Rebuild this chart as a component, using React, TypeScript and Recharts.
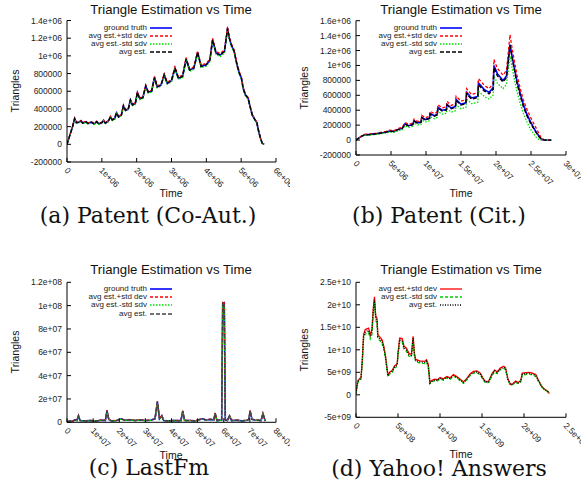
import { LineChart, Line, XAxis, YAxis, Legend } from 'recharts';

// (a) Patent (Co-Aut.)
const timeA = [0, 0.08e6, 0.16e6, 0.22e6, 0.27e6, 0.35e6, 0.4e6, 0.45e6, 0.55e6, 0.6e6,
  0.7e6, 0.78e6, 0.85e6, 0.92e6, 1.0e6, 1.05e6, 1.1e6, 1.18e6, 1.25e6, 1.3e6,
  1.37e6, 1.42e6, 1.48e6, 1.56e6, 1.62e6, 1.68e6, 1.76e6, 1.82e6, 1.88e6, 1.96e6,
  2.02e6, 2.09e6, 2.18e6, 2.26e6, 2.33e6, 2.43e6, 2.51e6, 2.59e6, 2.7e6, 2.79e6,
  2.88e6, 3.0e6, 3.1e6, 3.2e6, 3.32e6, 3.42e6, 3.52e6, 3.64e6, 3.75e6, 3.85e6,
  4.0e6, 4.1e6, 4.18e6, 4.28e6, 4.4e6, 4.52e6, 4.61e6, 4.66e6, 4.72e6, 4.8e6,
  4.88e6, 4.95e6, 5.0e6, 5.06e6, 5.12e6, 5.2e6, 5.26e6, 5.32e6, 5.4e6, 5.45e6,
  5.5e6, 5.56e6, 5.61e6, 5.66e6];
const avgA = [0, 0.1e6, 0.2e6, 0.29e6, 0.245e6, 0.25e6, 0.265e6, 0.24e6, 0.255e6, 0.235e6,
  0.25e6, 0.23e6, 0.255e6, 0.23e6, 0.245e6, 0.27e6, 0.24e6, 0.26e6, 0.31e6, 0.275e6,
  0.29e6, 0.355e6, 0.31e6, 0.33e6, 0.435e6, 0.385e6, 0.4e6, 0.5e6, 0.445e6, 0.46e6,
  0.585e6, 0.515e6, 0.53e6, 0.66e6, 0.59e6, 0.6e6, 0.755e6, 0.65e6, 0.67e6, 0.785e6,
  0.69e6, 0.72e6, 0.86e6, 0.745e6, 0.77e6, 0.965e6, 0.84e6, 0.86e6, 1.04e6, 0.88e6,
  0.9e6, 0.95e6, 1.18e6, 1.03e6, 1.01e6, 1.05e6, 1.31e6, 1.2e6, 1.12e6, 1.05e6,
  0.9e6, 0.8e6, 0.76e6, 0.63e6, 0.56e6, 0.52e6, 0.42e6, 0.33e6, 0.275e6, 0.245e6,
  0.15e6, 0.06e6, 0.01e6, 0];
const stdA = [0, 3e3, 5e3, 7e3, 6e3, 6e3, 6e3, 6e3, 6e3, 6e3,
  6e3, 6e3, 6e3, 6e3, 6e3, 7e3, 6e3, 6e3, 7e3, 7e3,
  7e3, 8e3, 7e3, 8e3, 9e3, 8e3, 9e3, 10e3, 9e3, 10e3,
  11e3, 10e3, 11e3, 12e3, 11e3, 11e3, 13e3, 12e3, 12e3, 13e3,
  12e3, 13e3, 15e3, 13e3, 14e3, 16e3, 15e3, 15e3, 17e3, 15e3,
  16e3, 16e3, 19e3, 17e3, 17e3, 18e3, 20e3, 19e3, 18e3, 17e3,
  16e3, 15e3, 14e3, 12e3, 11e3, 10e3, 9e3, 7e3, 6e3, 5e3,
  4e3, 2e3, 1e3, 0];
// ground truth lies right under the average at this scale
const truthA = avgA;
const xTicksA = [0, 1e6, 2e6, 3e6, 4e6, 5e6, 6e6];
const yTicksA = [-200000, 0, 200000, 400000, 600000, 800000, 1000000, 1200000, 1400000];

// (b) Patent (Cit.)
const timeB = [0, 0.6e6, 1.2e6, 2.0e6, 3.0e6, 3.6e6, 4.2e6, 4.8e6, 5.4e6, 6.0e6,
  6.6e6, 7.0e6, 7.5e6, 8.1e6, 8.3e6, 8.8e6, 9.3e6, 9.4e6, 9.9e6, 10.5e6,
  10.6e6, 11.2e6, 11.6e6, 11.7e6, 12.3e6, 12.9e6, 13.0e6, 13.6e6, 14.2e6, 14.3e6,
  15.0e6, 15.7e6, 15.8e6, 16.5e6, 17.4e6, 17.5e6, 18.3e6, 19.0e6, 19.6e6, 19.7e6,
  20.2e6, 21.0e6, 21.5e6, 22.0e6, 22.3e6, 22.7e6, 23.0e6, 23.5e6, 23.9e6, 24.4e6,
  24.9e6, 25.4e6, 25.8e6, 26.2e6, 26.5e6, 27.0e6, 27.9e6];
const avgB = [0, 0.04e6, 0.07e6, 0.075e6, 0.085e6, 0.095e6, 0.105e6, 0.12e6, 0.115e6, 0.14e6,
  0.155e6, 0.215e6, 0.19e6, 0.205e6, 0.255e6, 0.225e6, 0.24e6, 0.3e6, 0.27e6, 0.29e6,
  0.35e6, 0.32e6, 0.34e6, 0.43e6, 0.39e6, 0.4e6, 0.47e6, 0.42e6, 0.44e6, 0.53e6,
  0.47e6, 0.49e6, 0.62e6, 0.55e6, 0.57e6, 0.74e6, 0.66e6, 0.62e6, 0.68e6, 0.97e6,
  0.86e6, 0.78e6, 0.84e6, 1.27e6, 1.1e6, 0.9e6, 0.76e6, 0.58e6, 0.45e6, 0.33e6,
  0.23e6, 0.15e6, 0.09e6, 0.04e6, 0.01e6, 0, 0];
const truthB = [0, 0.04e6, 0.07e6, 0.076e6, 0.086e6, 0.096e6, 0.106e6, 0.122e6, 0.117e6, 0.142e6,
  0.157e6, 0.218e6, 0.193e6, 0.208e6, 0.26e6, 0.23e6, 0.245e6, 0.305e6, 0.275e6, 0.295e6,
  0.355e6, 0.325e6, 0.345e6, 0.44e6, 0.4e6, 0.41e6, 0.48e6, 0.43e6, 0.45e6, 0.545e6,
  0.48e6, 0.5e6, 0.64e6, 0.565e6, 0.585e6, 0.765e6, 0.68e6, 0.64e6, 0.7e6, 1.0e6,
  0.89e6, 0.8e6, 0.86e6, 1.28e6, 1.12e6, 0.93e6, 0.79e6, 0.61e6, 0.48e6, 0.35e6,
  0.25e6, 0.16e6, 0.1e6, 0.045e6, 0.012e6, 0, 0];
const stdB = [0, 0.004e6, 0.006e6, 0.007e6, 0.008e6, 0.009e6, 0.01e6, 0.012e6, 0.012e6, 0.014e6,
  0.016e6, 0.022e6, 0.02e6, 0.022e6, 0.026e6, 0.024e6, 0.026e6, 0.031e6, 0.028e6, 0.03e6,
  0.036e6, 0.034e6, 0.036e6, 0.045e6, 0.042e6, 0.043e6, 0.05e6, 0.045e6, 0.047e6, 0.058e6,
  0.05e6, 0.053e6, 0.07e6, 0.06e6, 0.063e6, 0.085e6, 0.075e6, 0.07e6, 0.076e6, 0.11e6,
  0.1e6, 0.09e6, 0.095e6, 0.14e6, 0.13e6, 0.12e6, 0.11e6, 0.1e6, 0.09e6, 0.085e6,
  0.08e6, 0.07e6, 0.06e6, 0.035e6, 0.01e6, 0, 0];
const xTicksB = [0, 5e6, 1e7, 1.5e7, 2e7, 2.5e7, 3e7];
const yTicksB = [-200000, 0, 200000, 400000, 600000, 800000, 1000000, 1200000, 1400000, 1600000];

// (c) LastFm
const timeC = [0, 1e6, 2e6, 3e6, 3.8e6, 4.4e6, 5e6, 7e6, 9e6, 11e6,
  13e6, 14.7e6, 15.3e6, 16e6, 17e6, 19e6, 20.8e6, 22e6, 24e6, 26e6,
  28e6, 30e6, 32e6, 33.7e6, 34.6e6, 35.4e6, 36.3e6, 37e6, 39e6, 41e6,
  43.6e6, 44.3e6, 45e6, 47e6, 49e6, 51e6, 52e6, 53e6, 55e6, 56.2e6,
  56.7e6, 57.4e6, 59.2e6, 59.6e6, 60.2e6, 60.6e6, 61.4e6, 62.2e6, 63e6, 65e6,
  67e6, 69e6, 69.6e6, 70.1e6, 70.8e6, 72e6, 73e6, 74.3e6, 75e6, 75.9e6];
const avgC = [0.5e6, 1.0e6, 0.8e6, 2.0e6, 1.5e6, 5.5e6, 1.5e6, 1.2e6, 1.5e6, 1.0e6,
  1.8e6, 1.6e6, 10e6, 2.5e6, 1.2e6, 1.5e6, 3.0e6, 1.8e6, 2.2e6, 1.5e6,
  2.0e6, 1.5e6, 1.8e6, 3.0e6, 17.5e6, 3.0e6, 5.5e6, 1.5e6, 1.2e6, 1.5e6,
  1.4e6, 9.5e6, 1.5e6, 1.5e6, 1.2e6, 2.5e6, 3.0e6, 2.0e6, 2.5e6, 2.0e6,
  7.7e6, 1.5e6, 2.0e6, 102e6, 102.5e6, 2.0e6, 1.5e6, 5.5e6, 1.5e6, 1.8e6,
  1.2e6, 1.8e6, 2.5e6, 9.7e6, 2.5e6, 2.0e6, 1.8e6, 1.5e6, 7.4e6, 1.0e6];
const stdC = [0.05e6, 0.1e6, 0.1e6, 0.2e6, 0.15e6, 0.4e6, 0.15e6, 0.1e6, 0.15e6, 0.1e6,
  0.15e6, 0.15e6, 0.5e6, 0.2e6, 0.1e6, 0.15e6, 0.25e6, 0.15e6, 0.2e6, 0.15e6,
  0.2e6, 0.15e6, 0.15e6, 0.25e6, 0.7e6, 0.25e6, 0.4e6, 0.15e6, 0.1e6, 0.15e6,
  0.1e6, 0.5e6, 0.15e6, 0.15e6, 0.1e6, 0.2e6, 0.25e6, 0.2e6, 0.2e6, 0.2e6,
  0.4e6, 0.15e6, 0.2e6, 0.9e6, 1.0e6, 0.2e6, 0.15e6, 0.4e6, 0.15e6, 0.15e6,
  0.1e6, 0.15e6, 0.2e6, 0.5e6, 0.2e6, 0.2e6, 0.15e6, 0.15e6, 0.4e6, 0.1e6];
// ground truth coincides with the average here too
const truthC = avgC;
const xTicksC = [0, 1e7, 2e7, 3e7, 4e7, 5e7, 6e7, 7e7, 8e7];
const yTicksC = [0, 2e7, 4e7, 6e7, 8e7, 1e8, 1.2e8];

// (d) Yahoo! Answers
const timeD = [0, 0.02e9, 0.06e9, 0.075e9, 0.09e9, 0.11e9, 0.15e9, 0.17e9, 0.19e9, 0.205e9,
  0.22e9, 0.235e9, 0.25e9, 0.26e9, 0.29e9, 0.31e9, 0.33e9, 0.35e9, 0.38e9, 0.4e9,
  0.43e9, 0.46e9, 0.49e9, 0.5e9, 0.52e9, 0.55e9, 0.57e9, 0.6e9, 0.63e9, 0.66e9,
  0.68e9, 0.695e9, 0.71e9, 0.76e9, 0.82e9, 0.84e9, 0.86e9, 0.88e9, 0.91e9, 0.94e9,
  0.97e9, 1.0e9, 1.04e9, 1.08e9, 1.12e9, 1.16e9, 1.2e9, 1.24e9, 1.28e9, 1.32e9,
  1.36e9, 1.4e9, 1.44e9, 1.48e9, 1.51e9, 1.54e9, 1.58e9, 1.62e9, 1.65e9, 1.68e9,
  1.72e9, 1.76e9, 1.78e9, 1.81e9, 1.84e9, 1.87e9, 1.9e9, 1.93e9, 1.96e9, 1.98e9,
  2.02e9, 2.06e9, 2.1e9, 2.14e9, 2.17e9, 2.21e9, 2.25e9, 2.28e9, 2.3e9];
const avgD = [0.3e9, 2.9e9, 3.7e9, 7.5e9, 12.9e9, 14.0e9, 14.3e9, 12.9e9, 14.0e9, 18.5e9,
  21.1e9, 17.0e9, 16.5e9, 12.9e9, 12.3e9, 11.8e9, 10.5e9, 8.5e9, 4.2e9, 4.8e9,
  5.2e9, 6.2e9, 6.6e9, 9.0e9, 12.2e9, 12.1e9, 10.5e9, 10.0e9, 8.9e9, 8.7e9,
  12.6e9, 9.0e9, 7.6e9, 7.3e9, 7.2e9, 7.5e9, 6.5e9, 2.6e9, 3.1e9, 3.3e9,
  3.2e9, 3.7e9, 3.4e9, 3.9e9, 3.6e9, 4.3e9, 3.9e9, 3.3e9, 2.7e9, 3.5e9,
  4.5e9, 5.0e9, 5.1e9, 4.6e9, 3.6e9, 2.8e9, 2.9e9, 4.5e9, 5.3e9, 4.9e9,
  5.8e9, 6.1e9, 5.8e9, 3.3e9, 2.2e9, 2.4e9, 2.9e9, 2.6e9, 3.0e9, 4.6e9,
  4.7e9, 4.8e9, 4.6e9, 4.3e9, 3.2e9, 1.8e9, 1.1e9, 0.8e9, 0.3e9];
const stdD = [0.05e9, 0.15e9, 0.2e9, 0.3e9, 0.45e9, 0.5e9, 0.5e9, 0.45e9, 0.5e9, 0.6e9,
  0.7e9, 0.55e9, 0.55e9, 0.45e9, 0.4e9, 0.4e9, 0.35e9, 0.3e9, 0.2e9, 0.2e9,
  0.2e9, 0.25e9, 0.25e9, 0.3e9, 0.4e9, 0.4e9, 0.35e9, 0.35e9, 0.3e9, 0.3e9,
  0.4e9, 0.3e9, 0.25e9, 0.25e9, 0.25e9, 0.25e9, 0.25e9, 0.15e9, 0.15e9, 0.15e9,
  0.15e9, 0.15e9, 0.15e9, 0.15e9, 0.15e9, 0.2e9, 0.15e9, 0.15e9, 0.15e9, 0.15e9,
  0.2e9, 0.2e9, 0.2e9, 0.2e9, 0.15e9, 0.15e9, 0.15e9, 0.2e9, 0.2e9, 0.2e9,
  0.2e9, 0.25e9, 0.2e9, 0.15e9, 0.1e9, 0.1e9, 0.15e9, 0.1e9, 0.15e9, 0.2e9,
  0.2e9, 0.2e9, 0.2e9, 0.2e9, 0.15e9, 0.1e9, 0.05e9, 0.05e9, 0.02e9];
const xTicksD = [0, 5e8, 1e9, 1.5e9, 2e9, 2.5e9];
const yTicksD = [-5e9, 0, 5e9, 1e10, 1.5e10, 2e10, 2.5e10];

const seriesNames = ['ground truth', 'avg est.+std dev', 'avg est.-std sdv', 'avg est.'];
const chartTitle = 'Triangle Estimation vs Time';
const xLabel = 'Time';
const yLabel = 'Triangles';
const captions = ['(a) Patent (Co-Aut.)', '(b) Patent (Cit.)', '(c) LastFm', '(d) Yahoo! Answers'];

const FONT = '"Liberation Sans", Arial, Helvetica, sans-serif';
const SERIF = '"DejaVu Serif", serif';

// gnuplot style %g labels: 800000, 1e+06, 1.5e+07 ...
const gfmt = (v: number) => {
  if (v === 0) return '0';
  const e = Math.floor(Math.log10(Math.abs(v)) + 1e-9);
  if (e < 6) return String(v);
  const m = +(v / Math.pow(10, e)).toPrecision(6);
  return `${m}e+${e < 10 ? '0' + e : e}`;
};

const buildRows = (time: number[], avg: number[], std: number[], truth?: number[]) =>
  time.map((t, i) => ({
    t,
    truth: truth ? truth[i] : undefined,
    plus: avg[i] + std[i],
    minus: avg[i] - std[i],
    avg: avg[i],
  }));

type Style = { key: string; name: string; color: string; width: number; dash?: string };

const stylesABC = (avgColor: string): Style[] => [
  { key: 'truth', name: seriesNames[0], color: '#0000ff', width: 1.6 },
  { key: 'plus', name: seriesNames[1], color: '#ff0000', width: 1.3, dash: '3 2' },
  { key: 'minus', name: seriesNames[2], color: '#00dd00', width: 1.3, dash: '1.5 1.5' },
  { key: 'avg', name: seriesNames[3], color: avgColor, width: 1.4, dash: '4 2' },
];
const stylesD: Style[] = [
  { key: 'plus', name: seriesNames[1], color: '#ff0000', width: 1.3 },
  { key: 'minus', name: seriesNames[2], color: '#00cc00', width: 1.3, dash: '3 2' },
  { key: 'avg', name: seriesNames[3], color: '#000000', width: 1.3, dash: '1 1.5' },
];

const XTick = ({ x, y, payload }: any) => {
  const ax = x - 3;
  const ay = y + 9;
  return (
    <text x={ax} y={ay} transform={`rotate(45 ${ax} ${ay})`} fontSize={8.5} fontFamily={FONT} fill="#222" textAnchor="start">
      {gfmt(payload.value)}
    </text>
  );
};

const LegendBox = ({ series }: { series: Style[] }) => (
  <div style={{ fontFamily: FONT, fontSize: 8, color: '#222' }}>
    {series.map((s) => (
      <div key={s.key} style={{ display: 'flex', alignItems: 'center', height: 8.2 }}>
        <span style={{ width: 72, textAlign: 'right', lineHeight: '8px', whiteSpace: 'nowrap' }}>{s.name}</span>
        <svg width={22} height={8} style={{ marginLeft: 3 }}>
          <line x1={0} y1={4} x2={22} y2={4} stroke={s.color} strokeWidth={s.width} strokeDasharray={s.dash} />
        </svg>
      </div>
    ))}
  </div>
);

type PanelProps = {
  left: number;
  top: number;
  width: number;
  height: number;
  plot: { left: number; right: number; top: number; bottom: number };
  rows: any[];
  xTicks: number[];
  yTicks: number[];
  series: Style[];
  legendTop: number;
};

const Panel = ({ left, top, width, height, plot, rows, xTicks, yTicks, series, legendTop }: PanelProps) => {
  const xDomain = [xTicks[0], xTicks[xTicks.length - 1]];
  const yDomain = [yTicks[0], yTicks[yTicks.length - 1]];
  const ln = { stroke: '#000', strokeWidth: 1 };
  return (
    <div style={{ position: 'absolute', left, top }}>
      <LineChart
        width={width}
        height={height}
        data={rows}
        margin={{ top: plot.top, right: width - plot.right, bottom: 0, left: 0 }}
      >
        <XAxis xAxisId="b" dataKey="t" type="number" domain={xDomain} ticks={xTicks} interval={0}
          allowDataOverflow height={height - plot.bottom} axisLine={ln} tickLine={ln}
          tickSize={-4} tickMargin={4} tick={<XTick />} />
        <XAxis xAxisId="t" orientation="top" dataKey="t" type="number" domain={xDomain} ticks={xTicks}
          interval={0} allowDataOverflow height={0} axisLine={ln} tickLine={ln} tickSize={-4} tick={false} />
        <YAxis yAxisId="l" type="number" domain={yDomain} ticks={yTicks} interval={0} allowDataOverflow
          width={plot.left} axisLine={ln} tickLine={ln} tickSize={-4} tickMargin={9} tickFormatter={gfmt}
          tick={{ fontSize: 8.5, fill: '#222', fontFamily: FONT }} />
        <YAxis yAxisId="r" orientation="right" type="number" domain={yDomain} ticks={yTicks} interval={0}
          allowDataOverflow width={0} axisLine={ln} tickLine={ln} tickSize={-4} tick={false} />
        <Legend
          layout="horizontal"
          verticalAlign="middle"
          align="center"
          wrapperStyle={{ left: 75, top: legendTop, width: 100, height: 'auto' }}
          content={() => <LegendBox series={series} />}
        />
        {series.map((s) => (
          <Line
            key={s.key}
            xAxisId="b"
            yAxisId="l"
            type="linear"
            dataKey={s.key}
            name={s.name}
            stroke={s.color}
            strokeWidth={s.width}
            strokeDasharray={s.dash}
            dot={false}
            activeDot={false}
            isAnimationActive={false}
          />
        ))}
      </LineChart>
    </div>
  );
};

const Label = ({ x, y, size, family = FONT, rotate = false, children }: any) => (
  <div
    style={{
      position: 'absolute',
      left: x,
      top: y,
      transform: `translate(-50%, -50%)${rotate ? ' rotate(-90deg)' : ''}`,
      whiteSpace: 'nowrap',
      fontSize: size,
      fontFamily: family,
      lineHeight: 1.2,
      color: '#111',
      zIndex: 5,
    }}
  >
    {children}
  </div>
);

const App = () => {
  const rowsA = buildRows(timeA, avgA, stdA, truthA);
  const rowsB = buildRows(timeB, avgB, stdB, truthB);
  const rowsC = buildRows(timeC, avgC, stdC, truthC);
  const rowsD = buildRows(timeD, avgD, stdD);

  return (
    <div style={{ position: 'fixed', left: 0, top: 0, width: 581, height: 491, background: '#fff', overflow: 'hidden' }}>
      <Panel left={0} top={0} width={290} height={200}
        plot={{ left: 67, right: 276, top: 20.5, bottom: 162 }}
        rows={rowsA} xTicks={xTicksA} yTicks={yTicksA} series={stylesABC('#000')} legendTop={23.5} />
      <Panel left={290} top={0} width={291} height={200}
        plot={{ left: 66, right: 276, top: 20.7, bottom: 155 }}
        rows={rowsB} xTicks={xTicksB} yTicks={yTicksB} series={stylesABC('#000')} legendTop={23.5} />
      <Panel left={0} top={245} width={290} height={215}
        plot={{ left: 67, right: 276, top: 37.3, bottom: 177.3 }}
        rows={rowsC} xTicks={xTicksC} yTicks={yTicksC} series={stylesABC('#444')} legendTop={40} />
      <Panel left={290} top={245} width={291} height={215}
        plot={{ left: 66, right: 276, top: 37.3, bottom: 172.3 }}
        rows={rowsD} xTicks={xTicksD} yTicks={yTicksD} series={stylesD} legendTop={40} />

      <Label x={171} y={10} size={13.2}>{chartTitle}</Label>
      <Label x={461} y={10} size={13.2}>{chartTitle}</Label>
      <Label x={171} y={270} size={13.2}>{chartTitle}</Label>
      <Label x={461} y={270} size={13.2}>{chartTitle}</Label>

      <Label x={171} y={193} size={10.5}>{xLabel}</Label>
      <Label x={461} y={193} size={10.5}>{xLabel}</Label>
      <Label x={171} y={455} size={10.5}>{xLabel}</Label>
      <Label x={461} y={454} size={10.5}>{xLabel}</Label>

      <Label x={15} y={91} size={10.5} rotate>{yLabel}</Label>
      <Label x={304} y={88} size={10.5} rotate>{yLabel}</Label>
      <Label x={15} y={352} size={10.5} rotate>{yLabel}</Label>
      <Label x={304} y={350} size={10.5} rotate>{yLabel}</Label>

      <Label x={148} y={216} size={22} family={SERIF}>{captions[0]}</Label>
      <Label x={439} y={216} size={22} family={SERIF}>{captions[1]}</Label>
      <Label x={149} y={468} size={22} family={SERIF}>{captions[2]}</Label>
      <Label x={439} y={469} size={22} family={SERIF}>{captions[3]}</Label>
    </div>
  );
};

export default App;
